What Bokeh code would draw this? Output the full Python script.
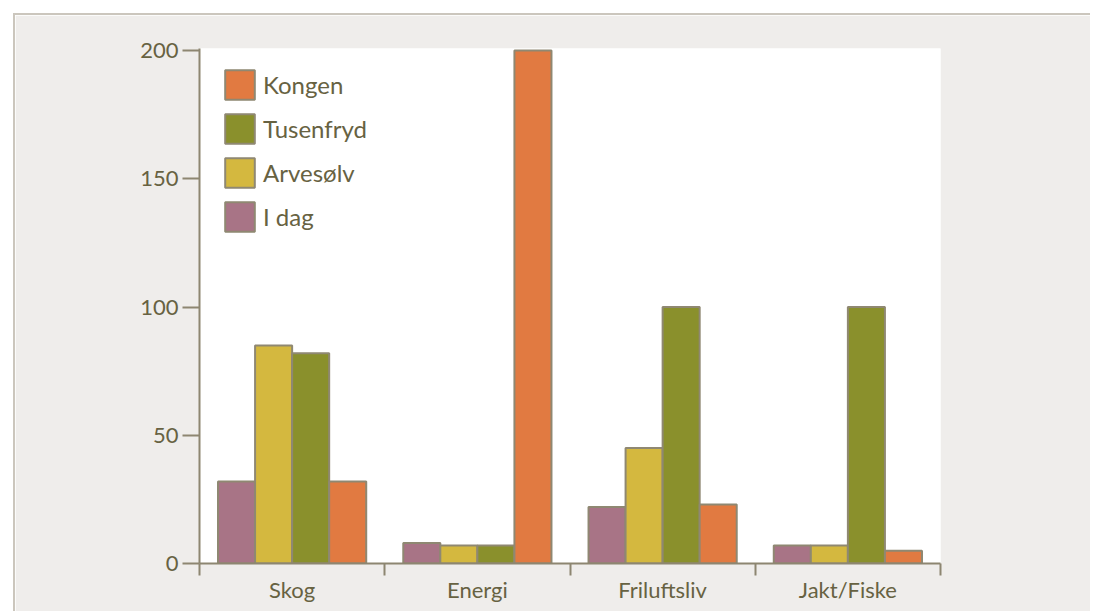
from bokeh.plotting import figure
from bokeh.models import (ColumnDataSource, Range1d, FixedTicker, Legend, LegendItem)
from bokeh.transform import dodge
from bokeh.embed import file_html
from bokeh.resources import INLINE

categories = ["Skog", "Energi", "Friluftsliv", "Jakt/Fiske"]
i_dag = [32, 8, 22, 7]
arvesolv = [85, 7, 45, 7]
tusenfryd = [82, 7, 100, 100]
kongen = [32, 200, 23, 5]
y_ticks = [0, 50, 100, 150, 200]

series = [("I dag", "i_dag", i_dag, "#a87486", -0.3),
          ("Arvesølv", "arvesolv", arvesolv, "#d4b83f", -0.1),
          ("Tusenfryd", "tusenfryd", tusenfryd, "#8a902c", 0.1),
          ("Kongen", "kongen", kongen, "#e17a41", 0.3)]

src = ColumnDataSource(dict(
    x=[i + 0.5 for i in range(len(categories))],
    i_dag=i_dag, arvesolv=arvesolv, tusenfryd=tusenfryd, kongen=kongen))

FONT = "Lato"
AX = "#8d8671"
TXT = "#676242"

p = figure(width=1077, height=598, output_backend="svg", toolbar_location=None,
           x_range=Range1d(0, len(categories)), y_range=Range1d(0, 200.8),
           min_border_left=184, min_border_right=152, min_border_top=33, min_border_bottom=50,
           background_fill_color="white", border_fill_color="#efedeb")
p.outline_line_color = None
p.grid.visible = False
p.styles = {"margin-left": "13px", "margin-top": "13px",
            "border-top": "2px solid #cbc6bd", "border-left": "2px solid #cbc6bd"}

renderers = {}
for name, col, vals, color, off in series:
    r = p.vbar(x=dodge("x", off), top=col, width=0.2, bottom=0, source=src,
               fill_color=color, line_color="#8f8872", line_width=2)
    renderers[name] = r

# axes
xa = p.xaxis[0]
xa.ticker = FixedTicker(ticks=[i + 0.5 for i in range(len(categories))],
                        minor_ticks=list(range(len(categories) + 1)))
xa.major_label_overrides = {i + 0.5: c for i, c in enumerate(categories)}
xa.major_tick_out = 0
xa.major_tick_in = 0
xa.minor_tick_out = 12
xa.minor_tick_in = 0
xa.minor_tick_line_color = AX
xa.minor_tick_line_width = 2
xa.axis_line_color = AX
xa.axis_line_width = 2
xa.major_label_standoff = 0
xa.major_label_text_font = FONT
xa.major_label_text_font_size = "22px"
xa.major_label_text_color = TXT

ya = p.yaxis[0]
ya.ticker = FixedTicker(ticks=y_ticks)
ya.minor_tick_line_color = None
ya.major_tick_out = 17
ya.major_tick_in = 0
ya.major_tick_line_color = AX
ya.major_tick_line_width = 2
ya.axis_line_color = AX
ya.axis_line_width = 2
ya.major_label_standoff = 4
ya.major_label_text_font = FONT
ya.major_label_text_font_size = "22px"
ya.major_label_text_color = TXT

legend = Legend(items=[LegendItem(label=n, renderers=[renderers[n]])
                       for n in ["Kongen", "Tusenfryd", "Arvesølv", "I dag"]],
                location=(22, 328), orientation="vertical",
                glyph_width=37, glyph_height=37, spacing=7, padding=0, margin=0,
                label_standoff=5, label_text_font=FONT, label_text_font_size="24px",
                label_text_color=TXT, border_line_color=None, background_fill_alpha=0)
p.add_layout(legend, "center")

open("out.html", "w").write(file_html(p, INLINE))
